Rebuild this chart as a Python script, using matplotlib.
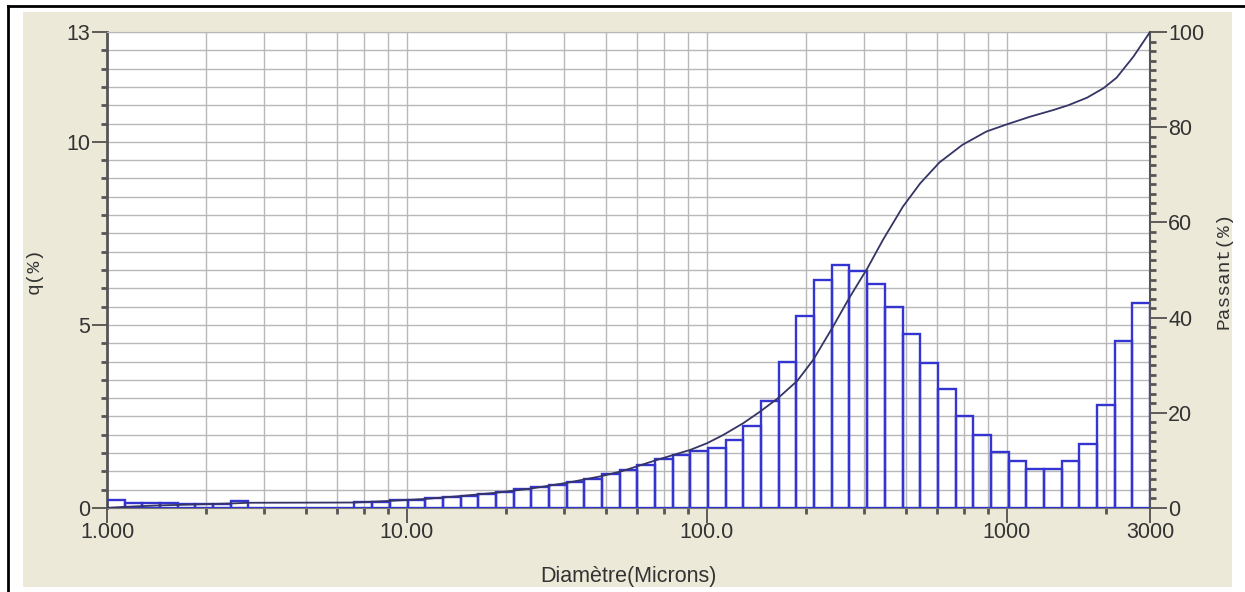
import numpy as np
import matplotlib.pyplot as plt
from matplotlib.patches import Rectangle
from matplotlib.lines import Line2D

# classes granulométriques : 59 classes log-uniformes entre 1 et 3000 microns
d_min = 1.0
d_max = 3000.0
n_classes = 59

# q(%) par classe
q_values = [0.22, 0.15, 0.15, 0.15, 0.10, 0.10, 0.10, 0.18, 0.0, 0.0,
            0.0, 0.0, 0.0, 0.0, 0.17, 0.17, 0.22, 0.22, 0.27, 0.31,
            0.33, 0.37, 0.45, 0.51, 0.56, 0.63, 0.70, 0.78, 0.92, 1.04,
            1.17, 1.33, 1.45, 1.55, 1.64, 1.85, 2.24, 2.93, 4.00, 5.25,
            6.23, 6.64, 6.48, 6.11, 5.50, 4.74, 3.95, 3.24, 2.52, 1.99,
            1.54, 1.27, 1.06, 1.06, 1.27, 1.75, 2.81, 4.57, 5.61]

# courbe cumulée (Passant %)
curve_d = [1.0, 1.15, 1.5, 1.97, 2.59, 2.97, 6.7, 8.8, 11.5, 15.0,
           19.8, 26.0, 34.2, 44.6, 52.5, 68.1, 87.9, 100, 113, 132,
           150, 172, 200, 226, 261, 298, 343, 386, 450, 514,
           596, 711, 855, 1000, 1194, 1427, 1600, 1850, 2100, 2321, 2640, 3000]
curve_pct = [0.0, 0.25, 0.55, 0.75, 0.95, 1.1, 1.15, 1.5, 1.9, 2.5,
             3.2, 4.1, 5.3, 6.7, 7.8, 10.1, 12.2, 13.6, 15.3, 17.8,
             20.2, 23.0, 26.7, 31.1, 37.7, 44.1, 50.4, 56.3, 63.3, 68.2,
             72.6, 76.3, 79.1, 80.6, 82.2, 83.6, 84.6, 86.2, 88.2, 90.4, 94.8, 100.0]

x_ticks = [1, 10, 100, 1000, 3000]
x_ticklabels = ['1.000', '10.00', '100.0', '1000', '3000']
grid_mult = [2.14, 3.35, 4.6, 5.86, 7.19, 8.65]
q_ticks = [0, 5, 10, 13]
pass_ticks = [0, 20, 40, 60, 80, 100]

beige = '#ece9d8'
grid_col = '#b8b8b8'
txt_col = '#333333'
bar_col = '#3434d0'
line_col = '#343466'

fig = plt.figure(figsize=(12.45, 5.92), dpi=100)
fig.patch.set_facecolor('white')
W, H = 1245, 592
fig.patches.append(Rectangle((23 / W, 5 / H), (1232 - 23) / W, (580 - 5) / H,
                             transform=fig.transFigure, facecolor=beige,
                             edgecolor='none', zorder=-1))
fig.lines.append(Line2D([8 / W, 8 / W], [0, 1 - 6 / H], transform=fig.transFigure,
                        color='black', lw=2))
fig.lines.append(Line2D([8 / W, 1], [1 - 6 / H, 1 - 6 / H], transform=fig.transFigure,
                        color='black', lw=2))

ax = fig.add_axes([107 / W, 1 - 508 / H, (1150 - 107) / W, (508 - 32) / H])
ax.set_facecolor('white')
ax.set_xscale('log')
ax.set_xlim(d_min, d_max)
ax.set_ylim(0, 13)

# histogramme
edges = np.geomspace(d_min, d_max, n_classes + 1)
ax.bar(edges[:-1], q_values, width=np.diff(edges), align='edge', fill=False,
       edgecolor=bar_col, linewidth=1.7, zorder=3)

# grille et graduations
minor_x = [m * 10 ** k for k in range(0, 4) for m in grid_mult if m * 10 ** k < d_max]
ax.set_xticks(x_ticks)
ax.set_xticklabels(x_ticklabels)
ax.set_xticks(minor_x, minor=True)
ax.set_xticklabels([], minor=True)
ax.set_yticks(q_ticks)
ax.set_yticks(np.arange(0, 13.01, 0.5), minor=True)
ax.grid(which='both', color=grid_col, lw=1.0, zorder=0)
ax.set_axisbelow(True)

ax.tick_params(axis='y', which='major', length=11, width=1.2, color='#444444',
               labelsize=15.5, labelcolor=txt_col, pad=1)
ax.tick_params(axis='y', which='minor', length=4, width=2, color='#555555')
ax.tick_params(axis='x', which='major', length=11, width=1.2, color='#444444',
               labelsize=15.5, labelcolor=txt_col, pad=-1)
ax.tick_params(axis='x', which='minor', length=4, width=2, color='#555555')
for lab in ax.get_xticklabels() + ax.get_yticklabels():
    lab.set_family('Liberation Sans')

ax.spines['left'].set_color('#555555')
ax.spines['left'].set_linewidth(2)
ax.spines['bottom'].set_color('#777777')
ax.spines['top'].set_color(grid_col)
ax.spines['right'].set_visible(False)

ax.set_ylabel('q(%)', family='Liberation Mono', fontsize=14, color=txt_col)
ax.yaxis.set_label_coords(-0.062, 0.5)
ax.set_xlabel('Diamètre(Microns)', family='Liberation Sans', fontsize=15.5, color=txt_col)
ax.xaxis.set_label_coords(0.5, -0.122)

# courbe cumulée
ax2 = ax.twinx()
ax2.set_ylim(0, 100)
ax2.plot(curve_d, curve_pct, color=line_col, lw=1.3, zorder=4)
ax2.set_yticks(pass_ticks)
ax2.set_yticks(np.arange(0, 100.1, 2), minor=True)
ax2.tick_params(axis='y', which='major', length=12, width=1.2, color='#444444',
                labelsize=15.5, labelcolor=txt_col, pad=1)
ax2.tick_params(axis='y', which='minor', length=4, width=2, color='#555555')
for lab in ax2.get_yticklabels():
    lab.set_family('Liberation Sans')
ax2.spines['right'].set_color('#555555')
ax2.spines['right'].set_linewidth(1.5)
for s in ['left', 'top', 'bottom']:
    ax2.spines[s].set_visible(False)
ax2.set_ylabel('Passant(%)', family='Liberation Mono', fontsize=14, color=txt_col)
ax2.yaxis.set_label_coords(1.063, 0.5)

fig.savefig('out.png', dpi=100)
